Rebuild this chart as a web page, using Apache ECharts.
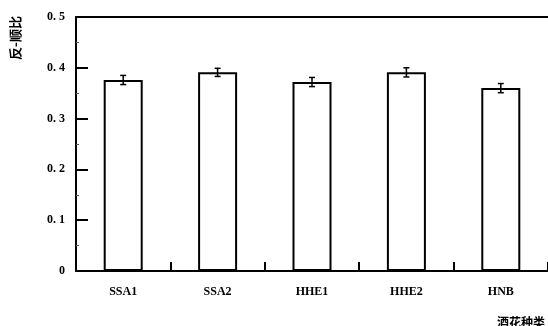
<!DOCTYPE html>
<html>
<head>
<meta charset="utf-8">
<script src="https://cdn.jsdelivr.net/npm/echarts@6/dist/echarts.min.js"></script>
<style>
  html, body { margin: 0; padding: 0; background: #fff; }
  #chart { width: 548px; height: 326px; }
</style>
</head>
<body>
<div id="chart"></div>
<script>
const categories = ['SSA1', 'SSA2', 'HHE1', 'HHE2', 'HNB'];
const ratio = [0.376, 0.391, 0.372, 0.391, 0.360];
const errors = [0.009, 0.008, 0.009, 0.009, 0.009];
const yTicks = [0, 0.1, 0.2, 0.3, 0.4, 0.5];

const serif = '"Liberation Serif", "DejaVu Serif", serif';
const cjk = '"Noto Sans CJK SC", sans-serif';

const chart = echarts.init(document.getElementById('chart'));

const option = {
  animation: false,
  backgroundColor: '#fff',
  grid: { left: 76, right: -8, top: 17, bottom: 55 },
  xAxis: [
    {
      type: 'category',
      data: categories,
      boundaryGap: true,
      axisLine: { lineStyle: { color: '#000', width: 2 } },
      axisTick: { show: true, inside: true, length: 9, alignWithLabel: false, lineStyle: { color: '#000', width: 2 } },
      axisLabel: { color: '#000', fontFamily: serif, fontWeight: 'bold', fontSize: 12, margin: 15 },
      splitLine: { show: false }
    },
    {
      type: 'category',
      position: 'top',
      data: categories,
      axisLine: { lineStyle: { color: '#000', width: 2 } },
      axisTick: { show: false },
      axisLabel: { show: false }
    }
  ],
  yAxis: {
    type: 'value',
    min: 0,
    max: 0.5,
    interval: 0.1,
    axisLine: { show: true, lineStyle: { color: '#000', width: 2 } },
    axisTick: { show: true, inside: true, length: 12, lineStyle: { color: '#000', width: 2 } },
    minorTick: { show: true, splitNumber: 2, length: 3, lineStyle: { color: '#555', width: 1 } },
    splitLine: { show: false },
    axisLabel: {
      color: '#000', fontFamily: serif, fontWeight: 'bold', fontSize: 12, margin: 11,
      formatter: v => {
        const t = yTicks.find(x => Math.abs(x - v) < 1e-9);
        return t === 0 ? '0' : t.toFixed(1).replace('.', '. ');
      }
    }
  },
  title: {
    text: '酒花种类',
    left: 492,
    top: 311,
    textStyle: { fontFamily: cjk, fontWeight: 'bold', fontSize: 12, color: '#000' }
  },
  graphic: [
    {
      type: 'text',
      x: 15,
      y: 38,
      rotation: Math.PI / 2,
      style: {
        text: '反-顺比',
        fill: '#000',
        font: 'bold 13px "Noto Sans CJK SC", sans-serif',
        align: 'center',
        verticalAlign: 'middle'
      }
    }
  ],
  series: [
    {
      type: 'bar',
      data: ratio,
      barWidth: 39,
      itemStyle: { color: '#fff', borderColor: '#000', borderWidth: 2 }
    },
    {
      type: 'custom',
      data: ratio.map((v, i) => [i, v, errors[i]]),
      renderItem: function (params, api) {
        const i = api.value(0);
        const v = api.value(1);
        const e = api.value(2);
        const hi = api.coord([i, v + e]);
        const lo = api.coord([i, v - e]);
        const w = 3;
        const style = { stroke: '#000', lineWidth: 1.5 };
        return {
          type: 'group',
          children: [
            { type: 'line', shape: { x1: hi[0], y1: hi[1], x2: lo[0], y2: lo[1] }, style: style },
            { type: 'line', shape: { x1: hi[0] - w, y1: hi[1], x2: hi[0] + w, y2: hi[1] }, style: style },
            { type: 'line', shape: { x1: lo[0] - w, y1: lo[1], x2: lo[0] + w, y2: lo[1] }, style: style }
          ]
        };
      },
      z: 5
    }
  ]
};

chart.setOption(option);
</script>
</body>
</html>
